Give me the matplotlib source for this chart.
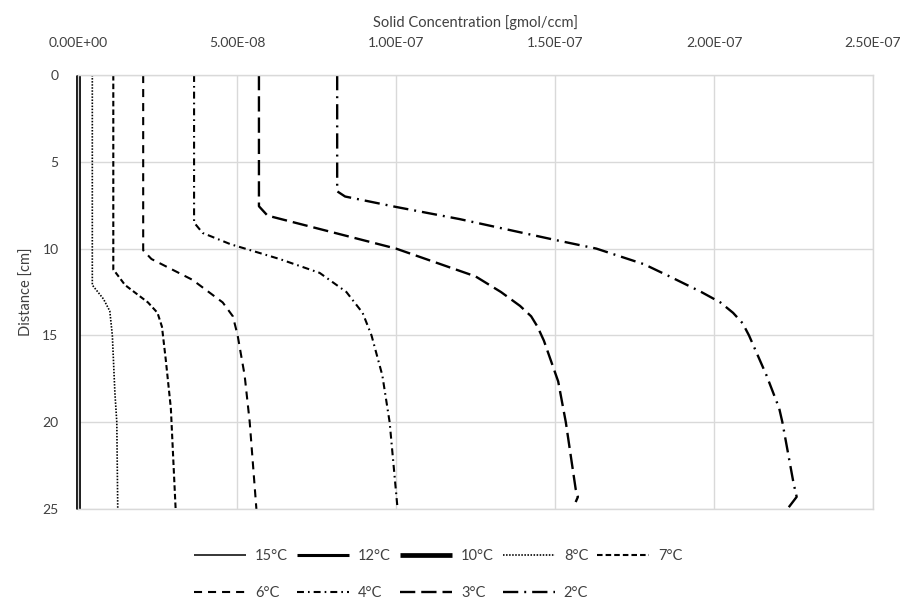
import matplotlib
matplotlib.use("Agg")
import matplotlib.pyplot as plt
from matplotlib.ticker import FuncFormatter

plt.rcParams['font.family'] = ['Lato', 'DejaVu Sans']
plt.rcParams['lines.scale_dashes'] = False

# depth [cm] and solid concentration [gmol/ccm] for each temperature
d_15 = [0, 25]
c_15 = [0.0, 0.0]
d_12 = [0, 25]
c_12 = [0.0, 0.0]
d_10 = [0, 25]
c_10 = [0.0, 0.0]

d_8 = [0, 12.1, 12.9, 13.6, 15, 18.3, 20, 25]
c_8 = [4.5e-9, 4.5e-9, 8.0e-9, 1.0e-8, 1.08e-8, 1.16e-8, 1.22e-8, 1.25e-8]

d_7 = [0, 11.2, 12.1, 13.1, 13.7, 14.5, 16.4, 19.2, 25]
c_7 = [1.11e-8, 1.11e-8, 1.48e-8, 2.2e-8, 2.5e-8, 2.64e-8, 2.76e-8, 2.92e-8, 3.07e-8]

d_6 = [0, 10.1, 10.6, 11.8, 13.1, 13.9, 15, 17.3, 20, 25]
c_6 = [2.05e-8, 2.05e-8, 2.31e-8, 3.6e-8, 4.55e-8, 4.87e-8, 5.02e-8, 5.24e-8, 5.4e-8, 5.61e-8]

d_4 = [0, 8.5, 9.1, 9.75, 10.6, 11.4, 12.5, 13.7, 15, 17.3, 20, 25]
c_4 = [3.65e-8, 3.65e-8, 3.92e-8, 4.8e-8, 6.34e-8, 7.6e-8, 8.44e-8, 8.95e-8, 9.23e-8, 9.57e-8, 9.8e-8, 1.005e-7]

d_3 = [0, 7.56, 8.1, 10, 11.6, 12.5, 13.3, 13.9, 14.5, 15.3, 17.65, 20, 23.85, 24.3, 24.6]
c_3 = [5.69e-8, 5.69e-8, 5.96e-8, 1.0e-7, 1.25e-7, 1.33e-7, 1.39e-7, 1.425e-7, 1.445e-7, 1.465e-7, 1.51e-7,
       1.534e-7, 1.565e-7, 1.572e-7, 1.565e-7]

d_2 = [0, 6.7, 7.0, 7.6, 8.3, 9.5, 10.0, 10.9, 11.6, 12.5, 13.1, 13.7, 14.3, 15, 17.3, 19.2, 20, 23.5, 24.3, 24.9]
c_2 = [8.15e-8, 8.15e-8, 8.4e-8, 1.0e-7, 1.2e-7, 1.5e-7, 1.63e-7, 1.78e-7, 1.86e-7, 1.96e-7, 2.02e-7,
       2.06e-7, 2.09e-7, 2.11e-7, 2.165e-7, 2.205e-7, 2.215e-7, 2.25e-7, 2.26e-7, 2.235e-7]

labels = ["15°C", "12°C", "10°C", "8°C", "7°C", "6°C", "4°C", "3°C", "2°C"]
x_ticks = [0, 5e-8, 1e-7, 1.5e-7, 2e-7, 2.5e-7]
y_ticks = [0, 5, 10, 15, 20, 25]

fig = plt.figure(figsize=(9.11, 6.04), dpi=100)
ax = fig.add_axes([78 / 911, 1 - 509 / 604, (873 - 78) / 911, (509 - 75) / 604])

data = [(d_15, c_15), (d_12, c_12), (d_10, c_10), (d_8, c_8), (d_7, c_7),
        (d_6, c_6), (d_4, c_4), (d_3, c_3), (d_2, c_2)]
styles = [
    dict(lw=1.1, ls='-'),
    dict(lw=2.2, ls='-'),
    dict(lw=3.4, ls='-'),
    dict(lw=1.2, ls=(0, (1.1, 1.1))),
    dict(lw=1.5, ls=(0, (4, 2.2))),
    dict(lw=1.5, ls=(0, (5.8, 4.3))),
    dict(lw=1.5, ls=(0, (5, 2.9, 1.2, 2.9))),
    dict(lw=1.7, ls=(0, (11, 4.3))),
    dict(lw=1.7, ls=(0, (11, 4.3, 1.4, 4.3))),
]

handles = []
for (d, c), st, lab in zip(data, styles, labels):
    h, = ax.plot(c, d, color='black', label=lab, solid_capstyle='butt',
                 dash_capstyle='butt', solid_joinstyle='round', dash_joinstyle='round',
                 clip_on=False, **st)
    handles.append(h)

ax.set_xlim(0, 2.5e-7)
ax.set_ylim(25, 0)
ax.set_xticks(x_ticks)
ax.set_yticks(y_ticks)
ax.xaxis.set_major_formatter(FuncFormatter(lambda v, p: f"{v:.2E}"))
ax.xaxis.tick_top()
ax.xaxis.set_label_position('top')
ax.tick_params(length=0, labelsize=10, colors='#404040')
ax.tick_params(axis='x', pad=19)
ax.tick_params(axis='y', pad=14)
ax.grid(True, color='#d9d9d9', lw=1.0)
ax.set_axisbelow(True)
for s in ax.spines.values():
    s.set_color('#d9d9d9')
    s.set_linewidth(1.0)

ax.set_xlabel("Solid Concentration [gmol/ccm]", fontsize=10.5, color='#404040', labelpad=7)
ax.set_ylabel("Distance [cm]", fontsize=10.5, color='#404040', labelpad=6)

order = [0, 5, 1, 6, 2, 7, 3, 8, 4]
fig.legend([handles[i] for i in order], [labels[i] for i in order],
           loc='upper center', bbox_to_anchor=(0.481, 0.112), ncol=5, frameon=False,
           fontsize=10.5, handlelength=3.6, handletextpad=0.6, columnspacing=0.6,
           labelspacing=1.55, labelcolor='#404040')

fig.savefig("out.png", dpi=100)
